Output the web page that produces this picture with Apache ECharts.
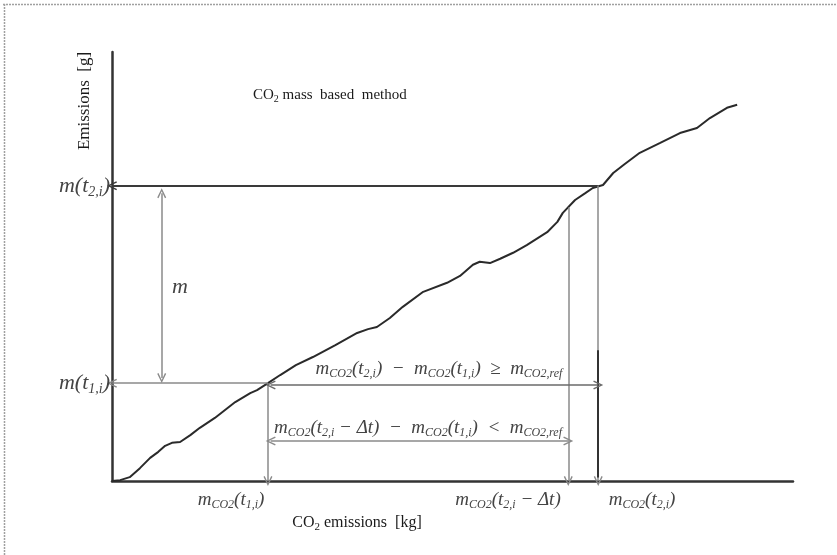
<!DOCTYPE html>
<html><head><meta charset="utf-8">
<script src="https://cdn.jsdelivr.net/npm/echarts@6/dist/echarts.min.js"></script>
<style>html,body{margin:0;padding:0;background:#fff}#c{width:837px;height:555px}</style>
</head><body><div id="c"></div>
<script>
// Cumulative emissions curve (x: CO2 emissions, y: emissions), schematic units 0..100
const curveX = [0, 1.2, 2.6, 4.1, 5.6, 6.8, 7.8, 8.8, 10.0, 11.5, 12.9, 15.1, 18.1, 20.3, 21.3, 22.9, 24.7, 27.0, 29.5, 32.8, 36.0, 37.6, 38.9, 40.8, 42.7, 45.7, 49.2, 51.1, 53.0, 54.0, 55.5, 57.0, 58.9, 60.9, 63.9, 65.4, 66.2, 68.0, 69.5, 70.6, 72.1, 73.6, 75.3, 77.5, 80.5, 83.4, 85.9, 87.8, 90.3, 91.8];
const curveY = [0, 0.2, 0.9, 3.0, 5.4, 6.8, 8.2, 8.9, 9.1, 10.7, 12.4, 14.7, 18.4, 20.5, 21.2, 22.8, 24.7, 27.0, 28.9, 31.7, 34.5, 35.4, 35.9, 38.0, 40.6, 44.1, 46.2, 47.8, 50.4, 51.1, 50.8, 51.8, 53.2, 55.0, 58.0, 60.4, 62.5, 65.5, 67.1, 68.3, 69.0, 71.8, 73.9, 76.5, 78.8, 81.1, 82.3, 84.6, 87.0, 87.7];

// Key annotation values
const t1x = 22.9;        // m_CO2(t1,i)
const t2dtx = 67.0;      // m_CO2(t2,i - dt)
const t2x = 71.4;        // m_CO2(t2,i)
const m1y = 22.8;        // m(t1,i)
const m2y = 68.8;        // m(t2,i)
const curveAtT2dt = 63.8;
const upperArrowY = 22.4;
const lowerArrowY = 9.3;
const mArrowX = 7.3;
const mArrowTop = 67.1;
const mArrowBottom = 24.0;
const darkStartY = 30.5;

const ARROW = 'path://M5,0 L10,10 L8.6,10.7 L5,3.3 L1.4,10.7 L0,10 Z';
const AS = [9, 10];

const F = 'Liberation Serif';
const R = {
  n: {fontFamily: F, fontWeight: 'normal', fontSize: 16, color: '#1a1a1a', lineHeight: 20},
  n2: {fontFamily: F, fontWeight: 'normal', fontSize: 11, color: '#1a1a1a', lineHeight: 12, verticalAlign: 'bottom'},
  t: {fontFamily: F, fontWeight: 'normal', fontSize: 15, color: '#1a1a1a', lineHeight: 19},
  t2: {fontFamily: F, fontWeight: 'normal', fontSize: 10, color: '#1a1a1a', lineHeight: 11, verticalAlign: 'bottom'},
  m: {fontFamily: F, fontWeight: 'normal', fontStyle: 'italic', fontSize: 19, color: '#444', lineHeight: 22},
  s: {fontFamily: F, fontWeight: 'normal', fontStyle: 'italic', fontSize: 12, color: '#444', lineHeight: 14, verticalAlign: 'bottom'},
  L: {fontFamily: F, fontWeight: 'normal', fontStyle: 'italic', fontSize: 22, color: '#444', lineHeight: 26},
  Ls: {fontFamily: F, fontWeight: 'normal', fontStyle: 'italic', fontSize: 14, color: '#444', lineHeight: 16, verticalAlign: 'bottom'}
};

function lab(text, x, y, align) {
  return {text: text, left: x, top: y, padding: 0, textAlign: align || 'center', textVerticalAlign: 'middle',
    textStyle: {fontWeight: 'normal', fontFamily: F, rich: R}};
}

const gray = {color: '#8a8a8a', width: 1.5, type: 'solid'};
const dark = {color: '#333', width: 2, type: 'solid'};

const chart = echarts.init(document.getElementById('c'), null, {renderer: 'canvas'});
chart.setOption({
  animation: false,
  backgroundColor: '#fff',
  grid: {left: 112, right: 44, top: 52, bottom: 74},
  xAxis: {type: 'value', min: 0, max: 100, axisLine: {show: true, lineStyle: {color: '#333', width: 2.5}},
    axisTick: {show: false}, axisLabel: {show: false}, splitLine: {show: false}},
  yAxis: {type: 'value', min: 0, max: 100, axisLine: {show: true, lineStyle: {color: '#333', width: 2.5}},
    axisTick: {show: false}, axisLabel: {show: false}, splitLine: {show: false}},
  title: [
    lab('{t|CO}{t2|2}{t| mass  based  method}', 253, 95, 'left'),
    lab('{n|CO}{n2|2}{n| emissions  [kg]}', 357, 523),
    lab('{L|m(t}{Ls|2,i}{L|)}', 110, 186, 'right'),
    lab('{L|m(t}{Ls|1,i}{L|)}', 110, 383, 'right'),
    lab('{L|m}', 180, 287),
    lab('{m|m}{s|CO2}{m|(t}{s|1,i}{m|)}', 231, 500),
    lab('{m|m}{s|CO2}{m|(t}{s|2,i}{m| − Δt)}', 508, 500),
    lab('{m|m}{s|CO2}{m|(t}{s|2,i}{m|)}', 642, 500),
    lab('{m|m}{s|CO2}{m|(t}{s|2,i}{m|)  −  m}{s|CO2}{m|(t}{s|1,i}{m|)  ≥  m}{s|CO2,ref}', 439, 369),
    lab('{m|m}{s|CO2}{m|(t}{s|2,i}{m| − Δt)  −  m}{s|CO2}{m|(t}{s|1,i}{m|)  <  m}{s|CO2,ref}', 418, 428)
  ],
  graphic: [
    {type: 'line', shape: {x1: 3, y1: 4.5, x2: 837, y2: 4.5}, style: {stroke: '#a0a0a0', lineWidth: 1.5, lineDash: [2, 1]}, silent: true},
    {type: 'line', shape: {x1: 4.5, y1: 4, x2: 4.5, y2: 555}, style: {stroke: '#a0a0a0', lineWidth: 1.5, lineDash: [2, 1]}, silent: true},
    {type: 'text', x: 85, y: 101, rotation: Math.PI / 2, silent: true,
      style: {text: 'Emissions  [g]', font: '17px "Liberation Serif"', fill: '#1a1a1a', align: 'center', verticalAlign: 'middle'}}
  ],
  series: [{
    type: 'line',
    data: curveX.map((x, i) => [x, curveY[i]]),
    showSymbol: false,
    silent: true,
    z: 3,
    lineStyle: {color: '#2a2a2a', width: 2},
    markLine: {
      silent: true,
      animation: false,
      symbol: ['none', 'none'],
      symbolSize: AS,
      label: {show: false},
      emphasis: {disabled: true},
      data: [
        [{coord: [t2x, m2y], symbol: 'none', lineStyle: {color: '#3a3a3a', width: 2, type: 'solid'}}, {coord: [0, m2y], symbol: ARROW, symbolSize: AS}],
        [{coord: [t1x, m1y], symbol: 'none', lineStyle: gray}, {coord: [0, m1y], symbol: ARROW, symbolSize: AS}],
        [{coord: [t1x, m1y], symbol: 'none', lineStyle: gray}, {coord: [t1x, 0], symbol: ARROW, symbolSize: AS}],
        [{coord: [t2dtx, curveAtT2dt], symbol: 'none', lineStyle: gray}, {coord: [t2dtx, 0], symbol: ARROW, symbolSize: AS}],
        [{coord: [t2x, m2y], symbol: 'none', lineStyle: gray}, {coord: [t2x, 0], symbol: ARROW, symbolSize: AS}],
        [{coord: [t2x, darkStartY], symbol: 'none', lineStyle: dark}, {coord: [t2x, 0.8], symbol: 'none'}],
        [{coord: [t1x + 0.4, upperArrowY], symbol: ARROW, symbolSize: AS, lineStyle: {color: '#6a6a6a', width: 1.5, type: 'solid'}}, {coord: [t2x, upperArrowY], symbol: ARROW, symbolSize: AS}],
        [{coord: [t1x + 0.4, lowerArrowY], symbol: ARROW, symbolSize: AS, lineStyle: gray}, {coord: [t2dtx, lowerArrowY], symbol: ARROW, symbolSize: AS}],
        [{coord: [mArrowX, mArrowTop], symbol: ARROW, symbolSize: AS, lineStyle: gray}, {coord: [mArrowX, mArrowBottom], symbol: ARROW, symbolSize: AS}]
      ]
    }
  }]
});
</script>
</body></html>
